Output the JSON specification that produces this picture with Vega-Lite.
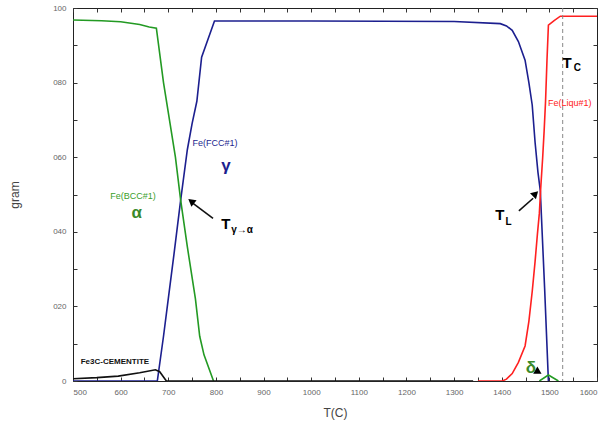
{
  "$schema": "https://vega.github.io/schema/vega-lite/v6.json",
  "width": 524,
  "height": 373,
  "autosize": "none",
  "padding": {"left": 73, "top": 8, "right": 10, "bottom": 46},
  "background": "white",
  "config": {
    "view": {"stroke": "#222", "strokeWidth": 1},
    "font": "Liberation Sans",
    "axis": {"domain": false, "grid": false, "tickColor": "#333", "tickSize": -4, "labelFont": "Liberation Sans", "labelFontSize": 8, "labelColor": "#666", "titleFont": "Liberation Sans", "titleFontWeight": "normal", "titleColor": "#444", "titleFontSize": 12}
  },
  "resolve": {"axis": {"x": "independent", "y": "independent"}},
  "layer": [
    {
      "data": {"values": [
        {"phase": "FCC", "branch": "a", "T": 500, "gram": 0}, {"phase": "FCC", "branch": "a", "T": 677, "gram": 0}, {"phase": "FCC", "branch": "a", "T": 690, "gram": 12}, {"phase": "FCC", "branch": "a", "T": 700, "gram": 22}, {"phase": "FCC", "branch": "a", "T": 712, "gram": 34}, {"phase": "FCC", "branch": "a", "T": 726, "gram": 48.5}, {"phase": "FCC", "branch": "a", "T": 740, "gram": 62}, {"phase": "FCC", "branch": "a", "T": 750, "gram": 69}, {"phase": "FCC", "branch": "a", "T": 760, "gram": 75}, {"phase": "FCC", "branch": "a", "T": 770, "gram": 86.8}, {"phase": "FCC", "branch": "a", "T": 797, "gram": 96.5}, {"phase": "FCC", "branch": "a", "T": 1000, "gram": 96.5}, {"phase": "FCC", "branch": "a", "T": 1300, "gram": 96.4}, {"phase": "FCC", "branch": "a", "T": 1397, "gram": 95.8}, {"phase": "FCC", "branch": "a", "T": 1410, "gram": 95.2}, {"phase": "FCC", "branch": "a", "T": 1422, "gram": 94}, {"phase": "FCC", "branch": "a", "T": 1435, "gram": 91}, {"phase": "FCC", "branch": "a", "T": 1449, "gram": 86}, {"phase": "FCC", "branch": "a", "T": 1457, "gram": 80}, {"phase": "FCC", "branch": "a", "T": 1464, "gram": 74}, {"phase": "FCC", "branch": "a", "T": 1470, "gram": 64}, {"phase": "FCC", "branch": "a", "T": 1476, "gram": 56}, {"phase": "FCC", "branch": "a", "T": 1481, "gram": 51}, {"phase": "FCC", "branch": "a", "T": 1490, "gram": 25}, {"phase": "FCC", "branch": "a", "T": 1498, "gram": 0},
        {"phase": "BCC", "branch": "a", "T": 500, "gram": 96.8}, {"phase": "BCC", "branch": "a", "T": 560, "gram": 96.6}, {"phase": "BCC", "branch": "a", "T": 600, "gram": 96.3}, {"phase": "BCC", "branch": "a", "T": 640, "gram": 95.6}, {"phase": "BCC", "branch": "a", "T": 660, "gram": 94.9}, {"phase": "BCC", "branch": "a", "T": 675, "gram": 94.6}, {"phase": "BCC", "branch": "a", "T": 690, "gram": 80}, {"phase": "BCC", "branch": "a", "T": 700, "gram": 72}, {"phase": "BCC", "branch": "a", "T": 715, "gram": 60}, {"phase": "BCC", "branch": "a", "T": 726, "gram": 48.5}, {"phase": "BCC", "branch": "a", "T": 740, "gram": 36}, {"phase": "BCC", "branch": "a", "T": 757, "gram": 22}, {"phase": "BCC", "branch": "a", "T": 766, "gram": 12}, {"phase": "BCC", "branch": "a", "T": 775, "gram": 7}, {"phase": "BCC", "branch": "a", "T": 795, "gram": 0},
        {"phase": "BCC", "branch": "d", "T": 1479, "gram": 0}, {"phase": "BCC", "branch": "d", "T": 1498, "gram": 1.6}, {"phase": "BCC", "branch": "d", "T": 1519, "gram": 0},
        {"phase": "Liq", "branch": "a", "T": 1350, "gram": 0}, {"phase": "Liq", "branch": "a", "T": 1401, "gram": 0}, {"phase": "Liq", "branch": "a", "T": 1410, "gram": 0.5}, {"phase": "Liq", "branch": "a", "T": 1422, "gram": 2}, {"phase": "Liq", "branch": "a", "T": 1435, "gram": 5}, {"phase": "Liq", "branch": "a", "T": 1449, "gram": 9.4}, {"phase": "Liq", "branch": "a", "T": 1457, "gram": 16}, {"phase": "Liq", "branch": "a", "T": 1464, "gram": 24}, {"phase": "Liq", "branch": "a", "T": 1470, "gram": 32}, {"phase": "Liq", "branch": "a", "T": 1475, "gram": 39.5}, {"phase": "Liq", "branch": "a", "T": 1479, "gram": 45}, {"phase": "Liq", "branch": "a", "T": 1482, "gram": 52}, {"phase": "Liq", "branch": "a", "T": 1486, "gram": 60}, {"phase": "Liq", "branch": "a", "T": 1489, "gram": 67}, {"phase": "Liq", "branch": "a", "T": 1492, "gram": 75}, {"phase": "Liq", "branch": "a", "T": 1495, "gram": 86}, {"phase": "Liq", "branch": "a", "T": 1498, "gram": 95.4}, {"phase": "Liq", "branch": "a", "T": 1510, "gram": 96.6}, {"phase": "Liq", "branch": "a", "T": 1523, "gram": 97.8}, {"phase": "Liq", "branch": "a", "T": 1600, "gram": 97.8},
        {"phase": "Fe3C", "branch": "a", "T": 500, "gram": 0.6}, {"phase": "Fe3C", "branch": "a", "T": 550, "gram": 0.9}, {"phase": "Fe3C", "branch": "a", "T": 595, "gram": 1.3}, {"phase": "Fe3C", "branch": "a", "T": 640, "gram": 2.2}, {"phase": "Fe3C", "branch": "a", "T": 673, "gram": 3.0}, {"phase": "Fe3C", "branch": "a", "T": 682, "gram": 2.5}, {"phase": "Fe3C", "branch": "a", "T": 696, "gram": 0}, {"phase": "Fe3C", "branch": "a", "T": 1340, "gram": 0}
      ]},
      "mark": {"type": "line", "strokeWidth": 1.6, "clip": true},
      "encoding": {
        "x": {"field": "T", "type": "quantitative", "scale": {"domain": [500, 1600], "nice": false, "zero": false},
          "axis": {"orient": "bottom", "values": [500,550,600,650,700,750,800,850,900,950,1000,1050,1100,1150,1200,1250,1300,1350,1400,1450,1500,1550,1600], "labelExpr": "datum.value % 100 == 0 ? datum.label : ''", "format": "d", "labelPadding": 11, "title": "T(C)", "titlePadding": 11}},
        "y": {"field": "gram", "type": "quantitative", "scale": {"domain": [0, 100], "nice": false},
          "axis": {"orient": "left", "values": [0,10,20,30,40,50,60,70,80,90,100], "labelExpr": "datum.value == 0 ? '0' : datum.value == 100 ? '100' : (datum.value % 20 == 0 ? '0' + datum.value : '')", "labelPadding": 11, "title": "gram", "titlePadding": 31}},
        "color": {"field": "phase", "type": "nominal", "scale": {"domain": ["FCC", "BCC", "Liq", "Fe3C"], "range": ["#1c1f8f", "#239a23", "#ff2020", "#111111"]}, "legend": null},
        "detail": {"field": "branch"}
      }
    },
    {
      "data": {"values": [{"T": 1528}]},
      "mark": {"type": "rule", "color": "#888", "strokeDash": [4, 3], "strokeWidth": 1},
      "encoding": {
        "x": {"field": "T", "type": "quantitative", "axis": {"orient": "top", "values": [500,550,600,650,700,750,800,850,900,950,1000,1050,1100,1150,1200,1250,1300,1350,1400,1450,1500,1550,1600], "labels": false, "title": null}}
      }
    },
    {
      "data": {"values": [{"T": 794, "gram": 43.6, "T2": 752, "gram2": 47.6}, {"T": 1436, "gram": 45.6, "T2": 1466, "gram2": 49}]},
      "mark": {"type": "rule", "color": "#111", "strokeWidth": 1.6},
      "encoding": {
        "x": {"field": "T", "type": "quantitative", "axis": null}, "y": {"field": "gram", "type": "quantitative", "axis": null},
        "x2": {"field": "T2"}, "y2": {"field": "gram2"}
      }
    },
    {
      "data": {"values": [{"T": 748, "gram": 48.2, "dir": 308}, {"T": 1471, "gram": 50.2, "dir": 45}, {"T": 1477, "gram": 2.4, "dir": 120}]},
      "mark": {"type": "point", "shape": "triangle-up", "filled": true, "color": "#000", "size": 70, "opacity": 1},
      "encoding": {
        "x": {"field": "T", "type": "quantitative", "axis": null}, "y": {"field": "gram", "type": "quantitative", "axis": null},
        "angle": {"field": "dir", "type": "quantitative", "scale": null}
      }
    },
    {
      "data": {"values": [{"label": "Fe(FCC#1)", "T": 798, "gram": 63.8}]},
      "mark": {"type": "text", "fontSize": 9, "color": "#1c1f8f"},
      "encoding": {"x": {"field": "T", "type": "quantitative", "axis": null}, "y": {"field": "gram", "type": "quantitative", "axis": null}, "text": {"field": "label"}}
    },
    {
      "data": {"values": [{"label": "γ", "T": 821, "gram": 57.6}]},
      "mark": {"type": "text", "fontSize": 17, "fontWeight": "bold", "color": "#1c1f8f"},
      "encoding": {"x": {"field": "T", "type": "quantitative", "axis": null}, "y": {"field": "gram", "type": "quantitative", "axis": null}, "text": {"field": "label"}}
    },
    {
      "data": {"values": [{"label": "Fe(BCC#1)", "T": 626, "gram": 49.5}]},
      "mark": {"type": "text", "fontSize": 9, "color": "#3aa02a"},
      "encoding": {"x": {"field": "T", "type": "quantitative", "axis": null}, "y": {"field": "gram", "type": "quantitative", "axis": null}, "text": {"field": "label"}}
    },
    {
      "data": {"values": [{"label": "α", "T": 634, "gram": 45}, {"label": "δ", "T": 1461, "gram": 3.6}]},
      "mark": {"type": "text", "fontSize": 17, "fontWeight": "bold", "color": "#3a8a2a"},
      "encoding": {"x": {"field": "T", "type": "quantitative", "axis": null}, "y": {"field": "gram", "type": "quantitative", "axis": null}, "text": {"field": "label"}}
    },
    {
      "data": {"values": [{"label": "Fe(Liqu#1)", "T": 1543, "gram": 74.5}]},
      "mark": {"type": "text", "fontSize": 9, "color": "#ff2020"},
      "encoding": {"x": {"field": "T", "type": "quantitative", "axis": null}, "y": {"field": "gram", "type": "quantitative", "axis": null}, "text": {"field": "label"}}
    },
    {
      "data": {"values": [{"label": "T", "T": 821, "gram": 42}, {"label": "T", "T": 1396, "gram": 44.4}, {"label": "T", "T": 1537, "gram": 85.2}]},
      "mark": {"type": "text", "fontSize": 15, "fontWeight": "bold", "color": "#000"},
      "encoding": {"x": {"field": "T", "type": "quantitative", "axis": null}, "y": {"field": "gram", "type": "quantitative", "axis": null}, "text": {"field": "label"}}
    },
    {
      "data": {"values": [{"label": "γ→α", "T": 832, "gram": 40.6}, {"label": "L", "T": 1408, "gram": 42.6}, {"label": "C", "T": 1551, "gram": 84}]},
      "mark": {"type": "text", "fontSize": 10, "fontWeight": "bold", "color": "#000", "align": "left"},
      "encoding": {"x": {"field": "T", "type": "quantitative", "axis": null}, "y": {"field": "gram", "type": "quantitative", "axis": null}, "text": {"field": "label"}}
    },
    {
      "data": {"values": [{"label": "Fe3C-CEMENTITE", "T": 588, "gram": 5}]},
      "mark": {"type": "text", "fontSize": 8, "fontWeight": "bold", "color": "#111"},
      "encoding": {"x": {"field": "T", "type": "quantitative", "axis": null},
        "y": {"field": "gram", "type": "quantitative", "axis": {"orient": "right", "values": [0,10,20,30,40,50,60,70,80,90,100], "labels": false, "title": null}},
        "text": {"field": "label"}}
    }
  ]
}
